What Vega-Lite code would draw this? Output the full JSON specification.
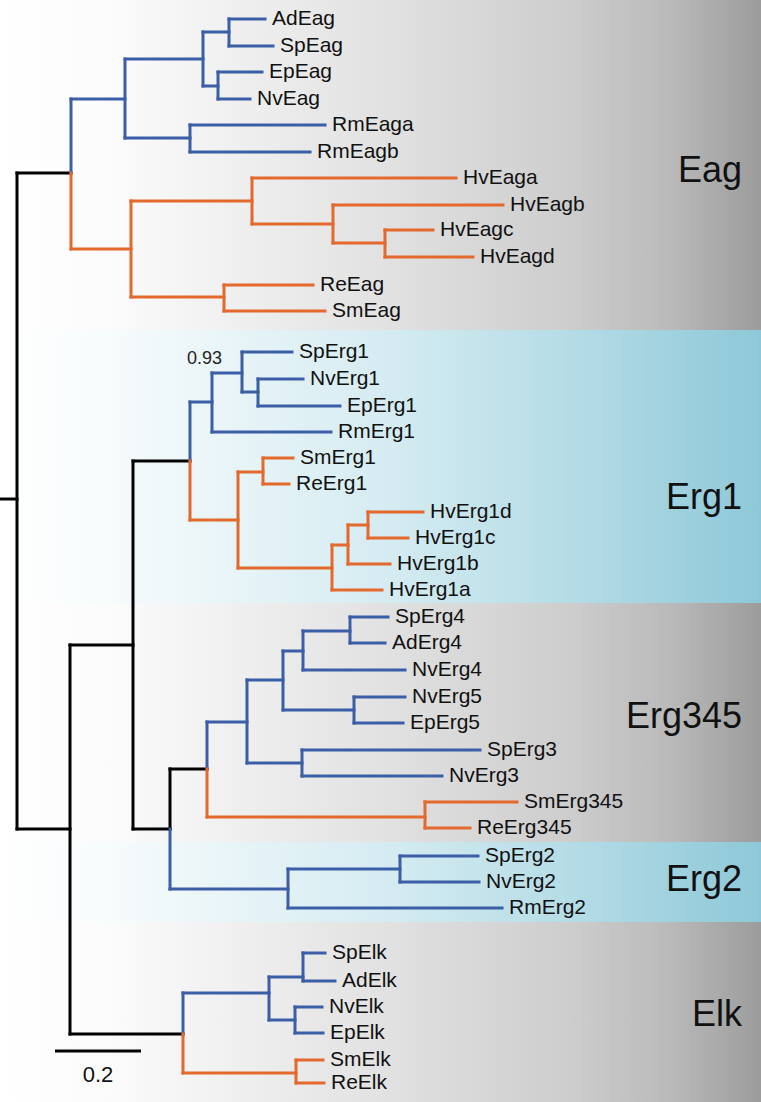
{
  "$schema": "https://vega.github.io/schema/vega-lite/v6.json",
  "width": 761,
  "height": 1102,
  "padding": 0,
  "autosize": {"type": "none"},
  "config": {"view": {"stroke": null}},
  "datasets": {
    "bands": [
      {"group": "Eag", "top": 0, "bottom": 330, "kind": "gray", "mid": 171},
      {"group": "Erg1", "top": 330, "bottom": 603, "kind": "cyan", "mid": 498},
      {"group": "Erg345", "top": 603, "bottom": 842, "kind": "gray", "mid": 717},
      {"group": "Erg2", "top": 842, "bottom": 922, "kind": "cyan", "mid": 880},
      {"group": "Elk", "top": 922, "bottom": 1102, "kind": "gray", "mid": 1015}
    ],
    "branches": [
      {"x": 0, "y": 499, "x2": 17, "y2": 499, "lineage": "backbone"},
      {"x": 17, "y": 173, "x2": 17, "y2": 829, "lineage": "backbone"},
      {"x": 17, "y": 173, "x2": 71, "y2": 173, "lineage": "backbone"},
      {"x": 17, "y": 829, "x2": 70, "y2": 829, "lineage": "backbone"},
      {"x": 71, "y": 99, "x2": 71, "y2": 173, "lineage": "anthozoa"},
      {"x": 71, "y": 99, "x2": 125, "y2": 99, "lineage": "anthozoa"},
      {"x": 125, "y": 59, "x2": 125, "y2": 138, "lineage": "anthozoa"},
      {"x": 125, "y": 59, "x2": 203, "y2": 59, "lineage": "anthozoa"},
      {"x": 203, "y": 32, "x2": 203, "y2": 86, "lineage": "anthozoa"},
      {"x": 203, "y": 32, "x2": 229, "y2": 32, "lineage": "anthozoa"},
      {"x": 229, "y": 19, "x2": 229, "y2": 46, "lineage": "anthozoa"},
      {"x": 229, "y": 19, "x2": 265, "y2": 19, "lineage": "anthozoa", "leaf": "AdEag"},
      {"x": 229, "y": 46, "x2": 273, "y2": 46, "lineage": "anthozoa", "leaf": "SpEag"},
      {"x": 203, "y": 86, "x2": 218, "y2": 86, "lineage": "anthozoa"},
      {"x": 218, "y": 72, "x2": 218, "y2": 99, "lineage": "anthozoa"},
      {"x": 218, "y": 72, "x2": 262, "y2": 72, "lineage": "anthozoa", "leaf": "EpEag"},
      {"x": 218, "y": 99, "x2": 250, "y2": 99, "lineage": "anthozoa", "leaf": "NvEag"},
      {"x": 125, "y": 138, "x2": 190, "y2": 138, "lineage": "anthozoa"},
      {"x": 190, "y": 125, "x2": 190, "y2": 152, "lineage": "anthozoa"},
      {"x": 190, "y": 125, "x2": 325, "y2": 125, "lineage": "anthozoa", "leaf": "RmEaga"},
      {"x": 190, "y": 152, "x2": 310, "y2": 152, "lineage": "anthozoa", "leaf": "RmEagb"},
      {"x": 71, "y": 173, "x2": 71, "y2": 249, "lineage": "medusozoa"},
      {"x": 71, "y": 249, "x2": 131, "y2": 249, "lineage": "medusozoa"},
      {"x": 131, "y": 201, "x2": 131, "y2": 297, "lineage": "medusozoa"},
      {"x": 131, "y": 201, "x2": 252, "y2": 201, "lineage": "medusozoa"},
      {"x": 252, "y": 178, "x2": 252, "y2": 224, "lineage": "medusozoa"},
      {"x": 252, "y": 178, "x2": 456, "y2": 178, "lineage": "medusozoa", "leaf": "HvEaga"},
      {"x": 252, "y": 224, "x2": 333, "y2": 224, "lineage": "medusozoa"},
      {"x": 333, "y": 205, "x2": 333, "y2": 243, "lineage": "medusozoa"},
      {"x": 333, "y": 205, "x2": 503, "y2": 205, "lineage": "medusozoa", "leaf": "HvEagb"},
      {"x": 333, "y": 243, "x2": 385, "y2": 243, "lineage": "medusozoa"},
      {"x": 385, "y": 230, "x2": 385, "y2": 257, "lineage": "medusozoa"},
      {"x": 385, "y": 230, "x2": 433, "y2": 230, "lineage": "medusozoa", "leaf": "HvEagc"},
      {"x": 385, "y": 257, "x2": 473, "y2": 257, "lineage": "medusozoa", "leaf": "HvEagd"},
      {"x": 131, "y": 297, "x2": 224, "y2": 297, "lineage": "medusozoa"},
      {"x": 224, "y": 285, "x2": 224, "y2": 311, "lineage": "medusozoa"},
      {"x": 224, "y": 285, "x2": 313, "y2": 285, "lineage": "medusozoa", "leaf": "ReEag"},
      {"x": 224, "y": 311, "x2": 325, "y2": 311, "lineage": "medusozoa", "leaf": "SmEag"},
      {"x": 70, "y": 645, "x2": 70, "y2": 1034, "lineage": "backbone"},
      {"x": 70, "y": 645, "x2": 133, "y2": 645, "lineage": "backbone"},
      {"x": 133, "y": 461, "x2": 133, "y2": 829, "lineage": "backbone"},
      {"x": 133, "y": 461, "x2": 190, "y2": 461, "lineage": "backbone"},
      {"x": 133, "y": 829, "x2": 170, "y2": 829, "lineage": "backbone"},
      {"x": 170, "y": 769, "x2": 170, "y2": 829, "lineage": "backbone"},
      {"x": 170, "y": 769, "x2": 207, "y2": 769, "lineage": "backbone"},
      {"x": 70, "y": 1034, "x2": 183, "y2": 1034, "lineage": "backbone"},
      {"x": 190, "y": 402, "x2": 190, "y2": 461, "lineage": "anthozoa"},
      {"x": 190, "y": 402, "x2": 212, "y2": 402, "lineage": "anthozoa"},
      {"x": 212, "y": 373, "x2": 212, "y2": 432, "lineage": "anthozoa"},
      {"x": 212, "y": 373, "x2": 242, "y2": 373, "lineage": "anthozoa"},
      {"x": 242, "y": 352, "x2": 242, "y2": 392, "lineage": "anthozoa"},
      {"x": 242, "y": 352, "x2": 292, "y2": 352, "lineage": "anthozoa", "leaf": "SpErg1"},
      {"x": 242, "y": 392, "x2": 258, "y2": 392, "lineage": "anthozoa"},
      {"x": 258, "y": 379, "x2": 258, "y2": 406, "lineage": "anthozoa"},
      {"x": 258, "y": 379, "x2": 303, "y2": 379, "lineage": "anthozoa", "leaf": "NvErg1"},
      {"x": 258, "y": 406, "x2": 340, "y2": 406, "lineage": "anthozoa", "leaf": "EpErg1"},
      {"x": 212, "y": 432, "x2": 331, "y2": 432, "lineage": "anthozoa", "leaf": "RmErg1"},
      {"x": 190, "y": 461, "x2": 190, "y2": 520, "lineage": "medusozoa"},
      {"x": 190, "y": 520, "x2": 238, "y2": 520, "lineage": "medusozoa"},
      {"x": 238, "y": 472, "x2": 238, "y2": 568, "lineage": "medusozoa"},
      {"x": 238, "y": 472, "x2": 263, "y2": 472, "lineage": "medusozoa"},
      {"x": 263, "y": 458, "x2": 263, "y2": 484, "lineage": "medusozoa"},
      {"x": 263, "y": 458, "x2": 293, "y2": 458, "lineage": "medusozoa", "leaf": "SmErg1"},
      {"x": 263, "y": 484, "x2": 289, "y2": 484, "lineage": "medusozoa", "leaf": "ReErg1"},
      {"x": 238, "y": 568, "x2": 332, "y2": 568, "lineage": "medusozoa"},
      {"x": 332, "y": 545, "x2": 332, "y2": 590, "lineage": "medusozoa"},
      {"x": 332, "y": 545, "x2": 348, "y2": 545, "lineage": "medusozoa"},
      {"x": 348, "y": 525, "x2": 348, "y2": 564, "lineage": "medusozoa"},
      {"x": 348, "y": 525, "x2": 368, "y2": 525, "lineage": "medusozoa"},
      {"x": 368, "y": 512, "x2": 368, "y2": 538, "lineage": "medusozoa"},
      {"x": 368, "y": 512, "x2": 423, "y2": 512, "lineage": "medusozoa", "leaf": "HvErg1d"},
      {"x": 368, "y": 538, "x2": 408, "y2": 538, "lineage": "medusozoa", "leaf": "HvErg1c"},
      {"x": 348, "y": 564, "x2": 390, "y2": 564, "lineage": "medusozoa", "leaf": "HvErg1b"},
      {"x": 332, "y": 590, "x2": 382, "y2": 590, "lineage": "medusozoa", "leaf": "HvErg1a"},
      {"x": 207, "y": 722, "x2": 207, "y2": 769, "lineage": "anthozoa"},
      {"x": 207, "y": 722, "x2": 247, "y2": 722, "lineage": "anthozoa"},
      {"x": 247, "y": 680, "x2": 247, "y2": 763, "lineage": "anthozoa"},
      {"x": 247, "y": 680, "x2": 283, "y2": 680, "lineage": "anthozoa"},
      {"x": 283, "y": 651, "x2": 283, "y2": 710, "lineage": "anthozoa"},
      {"x": 283, "y": 651, "x2": 303, "y2": 651, "lineage": "anthozoa"},
      {"x": 303, "y": 631, "x2": 303, "y2": 670, "lineage": "anthozoa"},
      {"x": 303, "y": 631, "x2": 350, "y2": 631, "lineage": "anthozoa"},
      {"x": 350, "y": 617, "x2": 350, "y2": 643, "lineage": "anthozoa"},
      {"x": 350, "y": 617, "x2": 388, "y2": 617, "lineage": "anthozoa", "leaf": "SpErg4"},
      {"x": 350, "y": 643, "x2": 385, "y2": 643, "lineage": "anthozoa", "leaf": "AdErg4"},
      {"x": 303, "y": 670, "x2": 405, "y2": 670, "lineage": "anthozoa", "leaf": "NvErg4"},
      {"x": 283, "y": 710, "x2": 354, "y2": 710, "lineage": "anthozoa"},
      {"x": 354, "y": 697, "x2": 354, "y2": 723, "lineage": "anthozoa"},
      {"x": 354, "y": 697, "x2": 405, "y2": 697, "lineage": "anthozoa", "leaf": "NvErg5"},
      {"x": 354, "y": 723, "x2": 403, "y2": 723, "lineage": "anthozoa", "leaf": "EpErg5"},
      {"x": 247, "y": 763, "x2": 302, "y2": 763, "lineage": "anthozoa"},
      {"x": 302, "y": 750, "x2": 302, "y2": 776, "lineage": "anthozoa"},
      {"x": 302, "y": 750, "x2": 480, "y2": 750, "lineage": "anthozoa", "leaf": "SpErg3"},
      {"x": 302, "y": 776, "x2": 442, "y2": 776, "lineage": "anthozoa", "leaf": "NvErg3"},
      {"x": 207, "y": 769, "x2": 207, "y2": 817, "lineage": "medusozoa"},
      {"x": 207, "y": 817, "x2": 425, "y2": 817, "lineage": "medusozoa"},
      {"x": 425, "y": 802, "x2": 425, "y2": 828, "lineage": "medusozoa"},
      {"x": 425, "y": 802, "x2": 517, "y2": 802, "lineage": "medusozoa", "leaf": "SmErg345"},
      {"x": 425, "y": 828, "x2": 470, "y2": 828, "lineage": "medusozoa", "leaf": "ReErg345"},
      {"x": 170, "y": 829, "x2": 170, "y2": 889, "lineage": "anthozoa"},
      {"x": 170, "y": 889, "x2": 288, "y2": 889, "lineage": "anthozoa"},
      {"x": 288, "y": 869, "x2": 288, "y2": 908, "lineage": "anthozoa"},
      {"x": 288, "y": 869, "x2": 400, "y2": 869, "lineage": "anthozoa"},
      {"x": 400, "y": 856, "x2": 400, "y2": 882, "lineage": "anthozoa"},
      {"x": 400, "y": 856, "x2": 478, "y2": 856, "lineage": "anthozoa", "leaf": "SpErg2"},
      {"x": 400, "y": 882, "x2": 479, "y2": 882, "lineage": "anthozoa", "leaf": "NvErg2"},
      {"x": 288, "y": 908, "x2": 502, "y2": 908, "lineage": "anthozoa", "leaf": "RmErg2"},
      {"x": 183, "y": 993, "x2": 183, "y2": 1034, "lineage": "anthozoa"},
      {"x": 183, "y": 993, "x2": 269, "y2": 993, "lineage": "anthozoa"},
      {"x": 269, "y": 977, "x2": 269, "y2": 1020, "lineage": "anthozoa"},
      {"x": 269, "y": 977, "x2": 303, "y2": 977, "lineage": "anthozoa"},
      {"x": 303, "y": 953, "x2": 303, "y2": 981, "lineage": "anthozoa"},
      {"x": 303, "y": 953, "x2": 325, "y2": 953, "lineage": "anthozoa", "leaf": "SpElk"},
      {"x": 303, "y": 981, "x2": 335, "y2": 981, "lineage": "anthozoa", "leaf": "AdElk"},
      {"x": 269, "y": 1020, "x2": 295, "y2": 1020, "lineage": "anthozoa"},
      {"x": 295, "y": 1007, "x2": 295, "y2": 1033, "lineage": "anthozoa"},
      {"x": 295, "y": 1007, "x2": 322, "y2": 1007, "lineage": "anthozoa", "leaf": "NvElk"},
      {"x": 295, "y": 1033, "x2": 323, "y2": 1033, "lineage": "anthozoa", "leaf": "EpElk"},
      {"x": 183, "y": 1034, "x2": 183, "y2": 1073, "lineage": "medusozoa"},
      {"x": 183, "y": 1073, "x2": 296, "y2": 1073, "lineage": "medusozoa"},
      {"x": 296, "y": 1060, "x2": 296, "y2": 1083, "lineage": "medusozoa"},
      {"x": 296, "y": 1060, "x2": 323, "y2": 1060, "lineage": "medusozoa", "leaf": "SmElk"},
      {"x": 296, "y": 1083, "x2": 324, "y2": 1083, "lineage": "medusozoa", "leaf": "ReElk"}
    ],
    "support": [{"x": 242, "y": 373, "value": "0.93"}],
    "scalebar": [{"x": 55, "x2": 141, "y": 1051, "xm": 98, "label": "0.2"}]
  },
  "layer": [
    {
      "data": {"name": "bands"},
      "transform": [{"filter": "datum.kind === 'gray'"}],
      "mark": {
        "type": "rect",
        "fill": {
          "gradient": "linear", "x1": 0, "x2": 1, "y1": 0, "y2": 0,
          "stops": [
            {"offset": 0, "color": "#ffffff"},
            {"offset": 0.15, "color": "#fbfbfb"},
            {"offset": 0.5, "color": "#e2e2e2"},
            {"offset": 0.75, "color": "#cdcdcd"},
            {"offset": 0.88, "color": "#bababa"},
            {"offset": 1, "color": "#9c9c9c"}
          ]
        }
      },
      "encoding": {
        "x": {"datum": 0, "type": "quantitative", "scale": {"domain": [0, 761], "nice": false, "zero": false}, "axis": null},
        "x2": {"datum": 761},
        "y": {"field": "top", "type": "quantitative", "scale": {"domain": [0, 1102], "reverse": true, "nice": false, "zero": false}, "axis": null},
        "y2": {"field": "bottom"}
      }
    },
    {
      "data": {"name": "bands"},
      "transform": [{"filter": "datum.kind === 'cyan'"}],
      "mark": {
        "type": "rect",
        "fill": {
          "gradient": "linear", "x1": 0, "x2": 1, "y1": 0, "y2": 0,
          "stops": [
            {"offset": 0, "color": "#ffffff"},
            {"offset": 0.15, "color": "#f6fbfc"},
            {"offset": 0.5, "color": "#d6ecf2"},
            {"offset": 0.75, "color": "#b5dce6"},
            {"offset": 1, "color": "#8ec8d8"}
          ]
        }
      },
      "encoding": {
        "x": {"datum": 0, "type": "quantitative"},
        "x2": {"datum": 761},
        "y": {"field": "top", "type": "quantitative"},
        "y2": {"field": "bottom"}
      }
    },
    {
      "data": {"name": "bands"},
      "mark": {"type": "text", "align": "right", "baseline": "middle", "font": "Liberation Sans", "fontSize": 36, "color": "#111111"},
      "encoding": {
        "x": {"datum": 742, "type": "quantitative"},
        "y": {"field": "mid", "type": "quantitative"},
        "text": {"field": "group"}
      }
    },
    {
      "data": {"name": "branches"},
      "mark": {"type": "rule", "strokeWidth": 3, "strokeCap": "square"},
      "encoding": {
        "x": {"field": "x", "type": "quantitative"},
        "x2": {"field": "x2"},
        "y": {"field": "y", "type": "quantitative"},
        "y2": {"field": "y2"},
        "color": {"field": "lineage", "type": "nominal", "scale": {"domain": ["backbone", "anthozoa", "medusozoa"], "range": ["#000000", "#3b5ea6", "#e4692d"]}, "legend": null}
      }
    },
    {
      "data": {"name": "branches"},
      "transform": [{"filter": "isValid(datum.leaf)"}],
      "mark": {"type": "text", "align": "left", "baseline": "middle", "dx": 7, "font": "Liberation Sans", "fontSize": 21, "color": "#111111"},
      "encoding": {
        "x": {"field": "x2", "type": "quantitative"},
        "y": {"field": "y", "type": "quantitative"},
        "text": {"field": "leaf"}
      }
    },
    {
      "data": {"name": "support"},
      "mark": {"type": "text", "align": "right", "baseline": "middle", "dx": -20, "dy": -14, "font": "Liberation Sans", "fontSize": 18, "color": "#222222"},
      "encoding": {
        "x": {"field": "x", "type": "quantitative"},
        "y": {"field": "y", "type": "quantitative"},
        "text": {"field": "value"}
      }
    },
    {
      "data": {"name": "scalebar"},
      "mark": {"type": "rule", "strokeWidth": 3, "color": "#000000"},
      "encoding": {
        "x": {"field": "x", "type": "quantitative"},
        "x2": {"field": "x2"},
        "y": {"field": "y", "type": "quantitative"}
      }
    },
    {
      "data": {"name": "scalebar"},
      "mark": {"type": "text", "align": "center", "baseline": "middle", "dy": 24, "font": "Liberation Sans", "fontSize": 22, "color": "#111111"},
      "encoding": {
        "x": {"field": "xm", "type": "quantitative"},
        "y": {"field": "y", "type": "quantitative"},
        "text": {"field": "label"}
      }
    }
  ]
}
